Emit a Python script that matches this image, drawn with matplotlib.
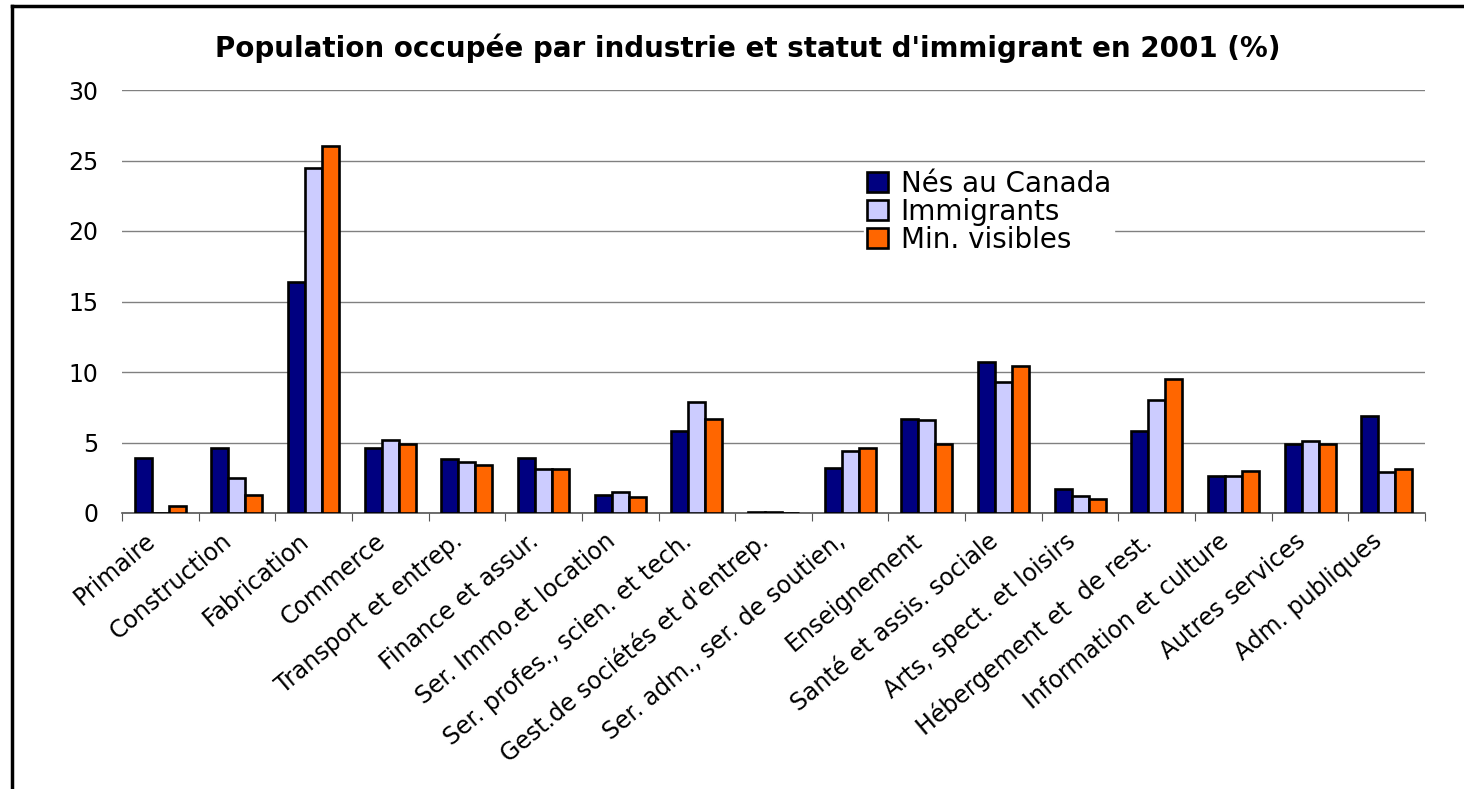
import numpy as np
import matplotlib
matplotlib.use("Agg")
import matplotlib.pyplot as plt
from matplotlib.lines import Line2D
from matplotlib.transforms import ScaledTranslation

industries = [
    "Primaire", "Construction", "Fabrication", "Commerce", "Transport et entrep.",
    "Finance et assur.", "Ser. Immo.et location", "Ser. profes., scien. et tech.",
    "Gest.de sociétés et d'entrep.", "Ser. adm., ser. de soutien,", "Enseignement",
    "Santé et assis. sociale", "Arts, spect. et loisirs", "Hébergement et  de rest.",
    "Information et culture", "Autres services", "Adm. publiques",
]
nes_au_canada = [3.9, 4.6, 16.4, 4.6, 3.8, 3.9, 1.3, 5.8, 0.1, 3.2, 6.7, 10.7, 1.7, 5.8, 2.6, 4.9, 6.9]
immigrants = [0.0, 2.5, 24.5, 5.2, 3.6, 3.1, 1.5, 7.9, 0.1, 4.4, 6.6, 9.3, 1.2, 8.0, 2.6, 5.1, 2.9]
min_visibles = [0.5, 1.3, 26.0, 4.9, 3.4, 3.1, 1.1, 6.7, 0.0, 4.6, 4.9, 10.4, 1.0, 9.5, 3.0, 4.9, 3.1]
series_names = ["Nés au Canada", "Immigrants", "Min. visibles"]
colors = ["#000080", "#CCCCFF", "#FF6600"]

fig = plt.figure(figsize=(14.64, 7.89), dpi=100)
ax = fig.add_axes([122 / 1464, 276 / 789, (1425 - 122) / 1464, (513 - 90) / 789])

x = np.arange(len(industries))
w = 0.222
for k, (vals, name, c) in enumerate(zip([nes_au_canada, immigrants, min_visibles], series_names, colors)):
    ax.bar(x + (k - 1) * w, vals, width=w, color=c, edgecolor="black", linewidth=1.9,
           label=name, zorder=3)

ax.set_xlim(-0.5, len(industries) - 0.5)
ax.set_ylim(0, 30)
ax.set_yticks(range(0, 31, 5))
ax.yaxis.grid(True, color="#808080", linewidth=1.0, zorder=0)
ax.tick_params(axis="y", length=0, pad=17, labelsize=17)

# category boundary ticks on the x axis
ax.set_xticks(np.arange(-0.5, len(industries), 1.0), minor=False)
ax.set_xticklabels([])
ax.tick_params(axis="x", which="major", direction="out", length=6, color="#555555")
ax.set_xticks(x, minor=True)
labels = ax.set_xticklabels(industries, minor=True, rotation=40, ha="right", va="center",
                            rotation_mode="anchor", fontsize=17)
ax.tick_params(axis="x", which="minor", length=0, pad=18)
shift = ScaledTranslation(-8 / 100, 0, fig.dpi_scale_trans)
for lab in labels:
    lab.set_transform(lab.get_transform() + shift)

for s in ["left", "right", "top"]:
    ax.spines[s].set_visible(False)
ax.spines["bottom"].set_color("#555555")
ax.spines["bottom"].set_linewidth(1.2)

leg = ax.legend(loc="center left", bbox_to_anchor=((850 - 122) / 1303, (513 - 212) / 423),
                frameon=True, fontsize=20, handlelength=0.75, handleheight=0.75,
                handletextpad=0.45, labelspacing=0.0, borderpad=0.12, fancybox=False)
leg.get_frame().set_edgecolor("white")
leg.get_frame().set_facecolor("white")
leg.get_frame().set_alpha(1)
leg.set_zorder(5)

fig.text(0.511, 0.939, "Population occupée par industrie et statut d'immigrant en 2001 (%)",
         ha="center", va="center", fontsize=20, fontweight="bold")

# outer frame (left and top edges visible)
fig.add_artist(Line2D([12 / 1464, 12 / 1464], [0, 1 - 6 / 789], color="black", linewidth=2.5))
fig.add_artist(Line2D([12 / 1464, 1], [1 - 6 / 789, 1 - 6 / 789], color="black", linewidth=2.5))

fig.savefig("out.png", dpi=100, facecolor="white")
